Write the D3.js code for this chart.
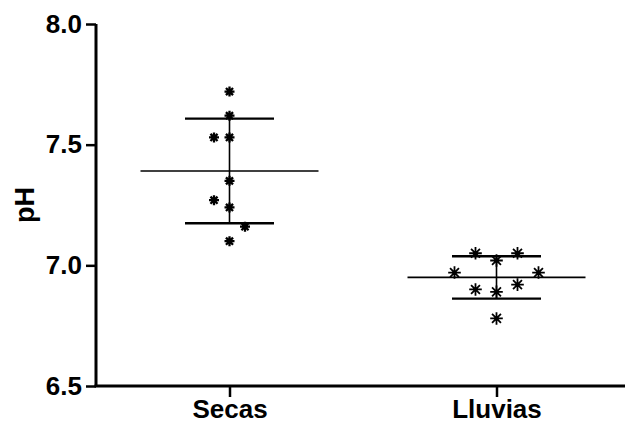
<!DOCTYPE html>
<html>
<head>
<meta charset="utf-8">
<script src="https://cdn.jsdelivr.net/npm/d3@7"></script>
<style>
  html, body { margin: 0; padding: 0; background: #fff; }
  svg { display: block; }
  text { font-family: "Liberation Sans", Arial, sans-serif; font-weight: bold; fill: #000; }
</style>
</head>
<body>
<svg id="chart" width="625" height="426"></svg>
<script>
// Groups and individual pH readings
const categories = ["Secas", "Lluvias"];
const secasValues = [7.72, 7.62, 7.53, 7.53, 7.35, 7.27, 7.24, 7.16, 7.10];
const lluviasValues = [7.05, 7.05, 7.02, 6.97, 6.97, 6.92, 6.90, 6.89, 6.78];
// Horizontal jitter (in units of the symbol spacing) for each reading
const secasJitter = [0, 0, -1, 0, 0, -1, 0, 1, 0];
const lluviasJitter = [-1, 1, 0, -2, 2, 1, -1, 0, 0];
const yTicks = [6.5, 7.0, 7.5, 8.0];

const groups = [
  { name: categories[0], values: secasValues, jitter: secasJitter, size: 5, stroke: 2.3, step: 15.5 },
  { name: categories[1], values: lluviasValues, jitter: lluviasJitter, size: 6.3, stroke: 1.8, step: 21 }
];

const svg = d3.select("#chart");
const plotLeft = 96, plotTop = 24, plotBottom = 386, plotRight = 630;

const x = d3.scalePoint().domain(categories).range([plotLeft, plotRight]).padding(0.5);
const y = d3.scaleLinear().domain([6.5, 8.0]).range([plotBottom, plotTop]);

// Y axis
const yAxis = svg.append("g")
  .attr("transform", `translate(${plotLeft},0)`)
  .call(d3.axisLeft(y).tickValues(yTicks).tickFormat(d3.format(".1f")).tickSize(10).tickPadding(4));
yAxis.select(".domain").attr("stroke-width", 3).attr("d", `M0,${plotTop}V${plotBottom}`);
yAxis.selectAll(".tick line").attr("stroke-width", 2.5);
yAxis.selectAll(".tick text").style("font-size", "26px");

// X axis
const xAxis = svg.append("g")
  .attr("transform", `translate(0,${plotBottom})`)
  .call(d3.axisBottom(x).tickSize(11).tickPadding(3));
xAxis.select(".domain").attr("stroke-width", 3).attr("d", `M${plotLeft - 1.5},0H625`);
xAxis.selectAll(".tick line").attr("stroke-width", 2.5);
xAxis.selectAll(".tick text").style("font-size", "26px");

// Y axis title
svg.append("text")
  .attr("transform", `translate(34,${(plotTop + plotBottom) / 2}) rotate(-90)`)
  .attr("text-anchor", "middle")
  .style("font-size", "27px")
  .text("pH");

const plot = svg.append("g");

groups.forEach(g => {
  const cx = x(g.name);
  const mean = d3.mean(g.values);
  const sd = d3.deviation(g.values);

  // Mean line
  plot.append("line")
    .attr("x1", cx - 89).attr("x2", cx + 89)
    .attr("y1", y(mean)).attr("y2", y(mean))
    .attr("stroke", "#000").attr("stroke-width", 1.6);

  // SD whisker and caps
  plot.append("line")
    .attr("x1", cx).attr("x2", cx)
    .attr("y1", y(mean + sd)).attr("y2", y(mean - sd))
    .attr("stroke", "#000").attr("stroke-width", 1.6);
  [mean + sd, mean - sd].forEach(v => {
    plot.append("line")
      .attr("x1", cx - 44.5).attr("x2", cx + 44.5)
      .attr("y1", y(v)).attr("y2", y(v))
      .attr("stroke", "#000").attr("stroke-width", 2.4);
  });

  // Asterisk symbols for each reading
  const s = g.size, d = s * Math.SQRT1_2;
  const star = `M${-s},0H${s}M0,${-s}V${s}M${-d},${-d}L${d},${d}M${-d},${d}L${d},${-d}`;
  plot.selectAll(null)
    .data(g.values.map((v, i) => ({ v, j: g.jitter[i] })))
    .join("path")
    .attr("transform", p => `translate(${cx + p.j * g.step},${y(p.v)})`)
    .attr("d", star)
    .attr("fill", "none")
    .attr("stroke", "#000")
    .attr("stroke-width", g.stroke);
});
</script>
</body>
</html>
